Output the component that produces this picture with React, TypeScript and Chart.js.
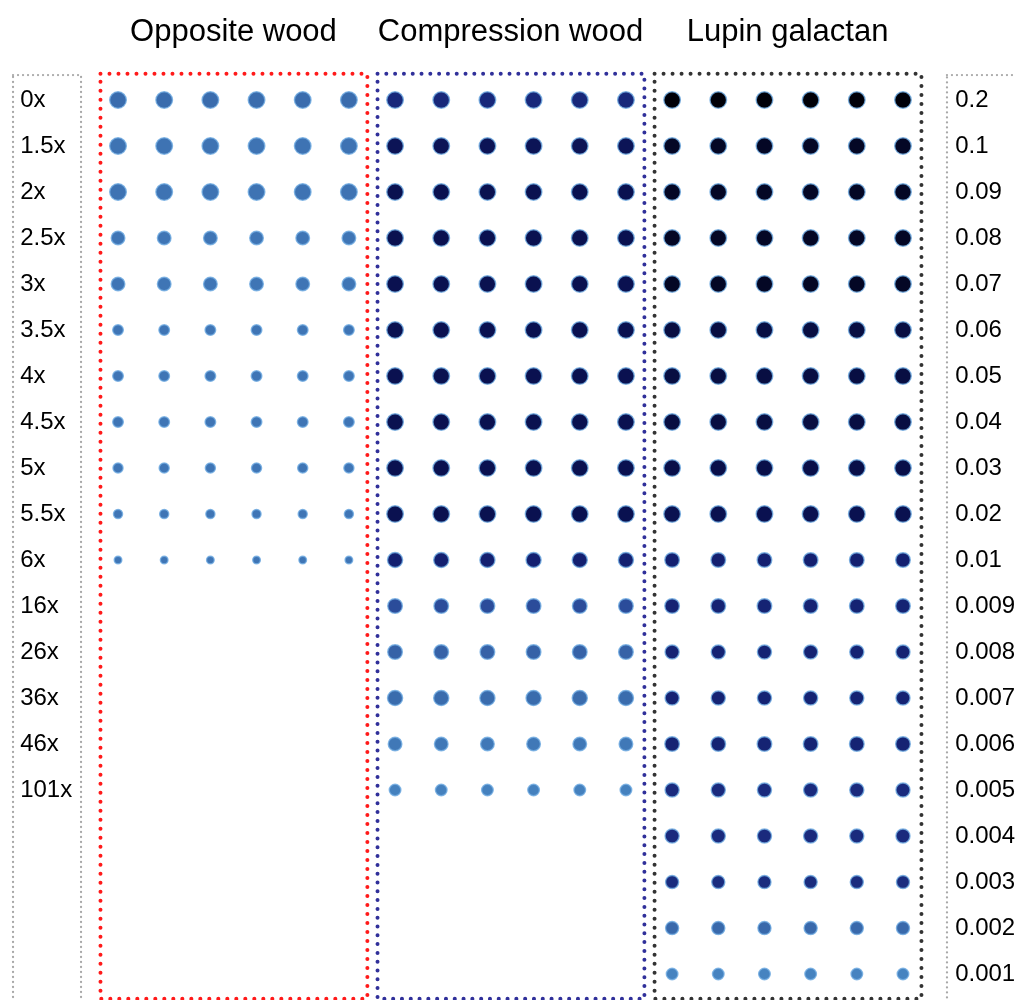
import React, { useEffect, useRef } from "react";
import { Chart, registerables } from "chart.js";

Chart.register(...registerables);

// Row labels: dilution factors (left) and glycan concentrations (right)
const dilutionLabels = [
  "0x", "1.5x", "2x", "2.5x", "3x", "3.5x", "4x", "4.5x", "5x", "5.5x",
  "6x", "16x", "26x", "36x", "46x", "101x",
];
const concentrationLabels = [
  "0.2", "0.1", "0.09", "0.08", "0.07", "0.06", "0.05", "0.04", "0.03", "0.02",
  "0.01", "0.009", "0.008", "0.007", "0.006", "0.005", "0.004", "0.003", "0.002", "0.001",
];
const panelTitles = ["Opposite wood", "Compression wood", "Lupin galactan"];
const replicateCount = 6;

// Spot diameter per row
const oppositeSpot = [17, 17, 17, 14, 14, 11, 11, 11, 10.5, 9.5, 8];
const compressionSpot = [17, 17, 17, 17, 17, 17, 17, 17, 17, 17, 15.5, 15, 15, 15.5, 14, 12];
const lupinSpot = [17, 17, 17, 17, 17, 17, 17, 17, 17, 17, 15, 15, 14.5, 14.5, 15, 14.5, 14.5, 13.5, 13.5, 12];

// Staining darkness per row (0 = pale, 1 = black)
const oppositeStain = [0.3, 0.27, 0.27, 0.26, 0.26, 0.26, 0.26, 0.26, 0.26, 0.26, 0.26];
const compressionStain = [0.74, 0.88, 0.9, 0.9, 0.9, 0.9, 0.9, 0.9, 0.9, 0.9, 0.8, 0.5, 0.36, 0.3, 0.25, 0.21];
const lupinStain = [1, 0.96, 0.96, 0.96, 0.96, 0.92, 0.92, 0.92, 0.91, 0.9, 0.8, 0.78, 0.78, 0.78, 0.78, 0.72, 0.72, 0.71, 0.32, 0.2];

const panels = [
  { spot: oppositeSpot, stain: oppositeStain, frame: "#ff1a1a", gap: 9, dot: 4 },
  { spot: compressionSpot, stain: compressionStain, frame: "#30309a", gap: 8.8, dot: 4 },
  { spot: lupinSpot, stain: lupinStain, frame: "#333333", gap: 9, dot: 4 },
];

const stainStops: [number, [number, number, number]][] = [
  [0, [106, 166, 216]],
  [0.2, [70, 131, 192]],
  [0.3, [58, 108, 173]],
  [0.5, [43, 76, 154]],
  [0.7, [27, 45, 128]],
  [0.8, [20, 32, 112]],
  [0.9, [10, 17, 80]],
  [1, [0, 0, 8]],
];

function stainColor(v: number): string {
  for (let i = 1; i < stainStops.length; i++) {
    const [t1, c1] = stainStops[i];
    const [t0, c0] = stainStops[i - 1];
    if (v <= t1) {
      const f = (v - t0) / (t1 - t0);
      const c = c0.map((a, k) => Math.round(a + (c1[k] - a) * f));
      return `rgb(${c[0]},${c[1]},${c[2]})`;
    }
  }
  return "rgb(0,0,8)";
}

const FONT = "'Liberation Sans', Arial, sans-serif";

function dottedRect(
  ctx: CanvasRenderingContext2D,
  x0: number, y0: number, x1: number, y1: number,
  color: string, dot: number, gap: number
) {
  ctx.save();
  ctx.strokeStyle = color;
  ctx.lineWidth = dot;
  ctx.lineCap = "round";
  ctx.setLineDash([0, gap]);
  ctx.strokeRect(x0, y0, x1 - x0, y1 - y0);
  ctx.restore();
}

const framePlugin = {
  id: "dotBlotFrames",
  afterDatasetsDraw(chart: any) {
    const ctx: CanvasRenderingContext2D = chart.ctx;
    const xs = chart.scales.x;
    const ys = chart.scales.y;
    const px = (v: number) => xs.getPixelForValue(v);
    const py = (v: number) => ys.getPixelForValue(v);

    // label columns
    dottedRect(ctx, px(-2.274), py(-0.543), px(-0.801), py(20.5), "#a8a8a8", 2.3, 5);
    dottedRect(ctx, px(17.953), py(-0.543), px(21), py(20.5), "#a8a8a8", 2.3, 5);

    panels.forEach((p, i) => {
      const c0 = i * replicateCount;
      dottedRect(ctx, px(c0 - 0.38), py(-0.57), px(c0 + replicateCount - 1 + 0.4), py(19.54), p.frame, p.dot, p.gap);
    });

    ctx.save();
    ctx.fillStyle = "#000";
    ctx.textBaseline = "middle";
    ctx.font = `31px ${FONT}`;
    ctx.textAlign = "center";
    panelTitles.forEach((t, i) => {
      ctx.fillText(t, px(i * replicateCount + (replicateCount - 1) / 2), py(-1.47));
    });
    ctx.font = `24px ${FONT}`;
    ctx.textAlign = "left";
    dilutionLabels.forEach((t, r) => ctx.fillText(t, px(-2.12), py(r)));
    concentrationLabels.forEach((t, r) => ctx.fillText(t, px(18.13), py(r)));
    ctx.restore();
  },
};

export default function App() {
  const ref = useRef<HTMLCanvasElement | null>(null);

  useEffect(() => {
    if (!ref.current) return;
    const datasets = panels.map((p, i) => {
      const data: { x: number; y: number; r: number }[] = [];
      const colors: string[] = [];
      p.spot.forEach((d, row) => {
        for (let c = 0; c < replicateCount; c++) {
          data.push({ x: i * replicateCount + c, y: row, r: d / 2 - 0.2 });
          colors.push(stainColor(p.stain[row]));
        }
      });
      return {
        label: panelTitles[i],
        data,
        backgroundColor: colors,
        borderColor: "rgba(110,170,225,0.8)",
        borderWidth: 1.4,
      };
    });

    const chart = new Chart(ref.current, {
      type: "bubble",
      data: { datasets },
      options: {
        animation: false,
        responsive: false,
        maintainAspectRatio: false,
        layout: { padding: 0, autoPadding: false },
        plugins: { legend: { display: false }, tooltip: { enabled: false } },
        events: [],
        scales: {
          x: { type: "linear", display: false, min: -2.556, max: 19.426 },
          y: { type: "linear", display: false, min: -2.174, max: 19.565, reverse: true },
        },
      },
      plugins: [framePlugin],
    });
    return () => chart.destroy();
  }, []);

  return (
    <div style={{ position: "fixed", left: 0, top: 0, width: 1015, height: 1000, background: "#fff" }}>
      <canvas ref={ref} width={1015} height={1000} />
    </div>
  );
}
